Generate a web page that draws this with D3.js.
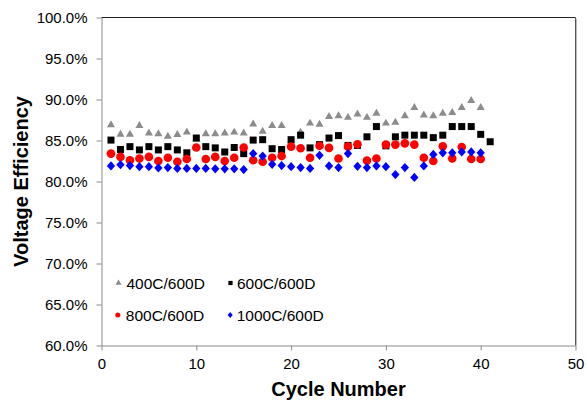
<!DOCTYPE html>
<html>
<head>
<meta charset="utf-8">
<script src="https://cdn.jsdelivr.net/npm/d3@7/dist/d3.min.js"></script>
<style>
  html, body { margin: 0; padding: 0; background: #fff; }
  svg { display: block; font-family: "Liberation Sans", Arial, sans-serif; }
</style>
</head>
<body>
<svg id="chart" width="587" height="400"></svg>
<script>
// ---- data ----
const cycles = [1,2,3,4,5,6,7,8,9,10,11,12,13,14,15,16,17,18,19,20,21,22,23,24,25,26,27,28,29,30,31,32,33,34,35,36,37,38,39,40,41];
const v400C = [86.9,85.75,85.75,86.8,85.9,85.8,85.5,85.7,86.0,85.15,85.8,85.8,85.9,86.0,85.9,87.0,86.1,86.8,86.8,84.95,86.0,87.1,86.95,87.9,88.0,87.8,88.2,87.8,88.3,87.1,87.2,88.0,89.0,88.1,88.0,88.3,88.4,89.0,89.85,89.0];
const v600C = [85.05,83.9,84.25,83.85,84.25,83.85,84.25,83.85,83.5,85.3,84.25,84.1,83.6,84.15,83.4,85.05,85.1,84.0,83.9,85.1,85.65,84.1,84.5,85.3,85.6,84.4,84.4,85.45,86.7,84.35,85.45,85.65,85.65,85.65,85.35,85.65,86.7,86.7,86.7,85.75,84.85];
const v800C = [83.4,83.0,82.6,82.8,83.0,82.5,82.9,82.4,82.75,84.15,82.75,83.0,82.5,82.9,84.15,82.6,82.4,82.9,83.1,84.25,84.05,82.9,84.35,84.1,82.8,84.25,84.55,82.55,82.8,84.5,84.5,84.65,84.5,82.9,82.5,84.3,82.8,84.2,82.75,82.75];
const v1000C = [81.9,82.05,81.95,81.8,81.8,81.65,81.7,81.6,81.6,81.6,81.6,81.55,81.55,81.55,81.45,83.4,83.1,82.1,81.95,81.8,81.7,81.6,83.2,81.9,81.7,83.4,81.85,81.7,81.9,81.8,80.85,81.7,80.5,81.9,83.3,83.5,83.5,83.6,83.6,83.5];
const seriesNames = ["400C/600D","600C/600D","800C/600D","1000C/600D"];
const xTicks = [0,10,20,30,40,50];
const yTicks = [0.60,0.65,0.70,0.75,0.80,0.85,0.90,0.95,1.00];
const xTitle = "Cycle Number";
const yTitle = "Voltage Efficiency";

// ---- layout ----
const svg = d3.select("#chart");
const x = d3.scaleLinear().domain([0, 50]).range([101.5, 575.5]);
const y = d3.scaleLinear().domain([0.60, 1.00]).range([345.5, 17.5]);
const axisColor = "#8a8a8a";

// frame: top and right
svg.append("line").attr("x1", x(0)).attr("x2", x(50)).attr("y1", y(1)).attr("y2", y(1))
  .attr("stroke", "#222").attr("stroke-width", 1);
svg.append("line").attr("x1", x(50)).attr("x2", x(50)).attr("y1", y(1)).attr("y2", y(0.6))
  .attr("stroke", "#555").attr("stroke-width", 1);
svg.append("line").attr("x1", x(50) + 1).attr("x2", x(50) + 1).attr("y1", y(1) + 1).attr("y2", y(0.6))
  .attr("stroke", "#bbb").attr("stroke-width", 1);

// axes
const gy = svg.append("g").attr("transform", `translate(${x(0)},0)`)
  .call(d3.axisLeft(y).tickValues(yTicks).tickFormat(d3.format(".1%")).tickSize(5).tickSizeOuter(0).tickPadding(9));
const gx = svg.append("g").attr("transform", `translate(0,${y(0.6)})`)
  .call(d3.axisBottom(x).tickValues(xTicks).tickFormat(d3.format("d")).tickSize(5).tickSizeOuter(0).tickPadding(8));
[gx, gy].forEach(g => {
  g.select(".domain").attr("stroke", axisColor);
  g.selectAll(".tick line").attr("stroke", axisColor);
  g.selectAll(".tick text").attr("fill", "#000").style("font-size", "15px")
    .style("font-family", "'Liberation Sans', Arial, sans-serif");
});

// titles
svg.append("text").attr("x", (x(0) + x(50)) / 2).attr("y", 395.5)
  .attr("text-anchor", "middle").style("font-size", "20px").style("font-weight", "bold").text(xTitle);
svg.append("text").attr("transform", `translate(28,${(y(0.6) + y(1)) / 2}) rotate(-90)`)
  .attr("text-anchor", "middle").style("font-size", "20px").style("font-weight", "bold").text(yTitle);

// markers
const sym = {
  tri: d3.symbol().type(d3.symbolTriangle).size(28),
  sq: d3.symbol().type(d3.symbolSquare).size(49),
  circ: d3.symbol().type(d3.symbolCircle).size(58),
  dia: d3.symbol().type(d3.symbolSquare).size(34)
};
const series = [
  { name: seriesNames[0], vals: v400C, color: "#8c8c8c", shape: "tri" },
  { name: seriesNames[1], vals: v600C, color: "#000000", shape: "sq" },
  { name: seriesNames[2], vals: v800C, color: "#ff0000", shape: "circ" },
  { name: seriesNames[3], vals: v1000C, color: "#0000ff", shape: "dia" }
];
series.forEach(s => {
  svg.append("g").selectAll("path").data(s.vals.map((v, i) => ({ c: cycles[i], v: v / 100 })))
    .join("path")
    .attr("d", sym[s.shape]())
    .attr("transform", d => `translate(${x(d.c)},${y(d.v)})` + (s.shape === "dia" ? " scale(1,1.12) rotate(45)" : ""))
    .attr("fill", s.color);
});

// legend
const legSym = {
  tri: d3.symbol().type(d3.symbolTriangle).size(16),
  sq: d3.symbol().type(d3.symbolSquare).size(18),
  circ: d3.symbol().type(d3.symbolCircle).size(20),
  dia: d3.symbol().type(d3.symbolSquare).size(13)
};
const legPos = [[118.5, 283], [230.5, 283], [117.8, 315], [230.2, 315]];
series.forEach((s, i) => {
  const [lx, ly] = legPos[i];
  svg.append("path").attr("d", legSym[s.shape]())
    .attr("transform", `translate(${lx},${ly})` + (s.shape === "dia" ? " scale(1,1.15) rotate(45)" : ""))
    .attr("fill", s.color);
  svg.append("text").attr("x", lx + (i % 2 === 0 ? 8 : 6.5)).attr("y", ly).attr("dy", "0.36em")
    .style("font-size", "15.5px").text(s.name);
});
</script>
</body>
</html>
